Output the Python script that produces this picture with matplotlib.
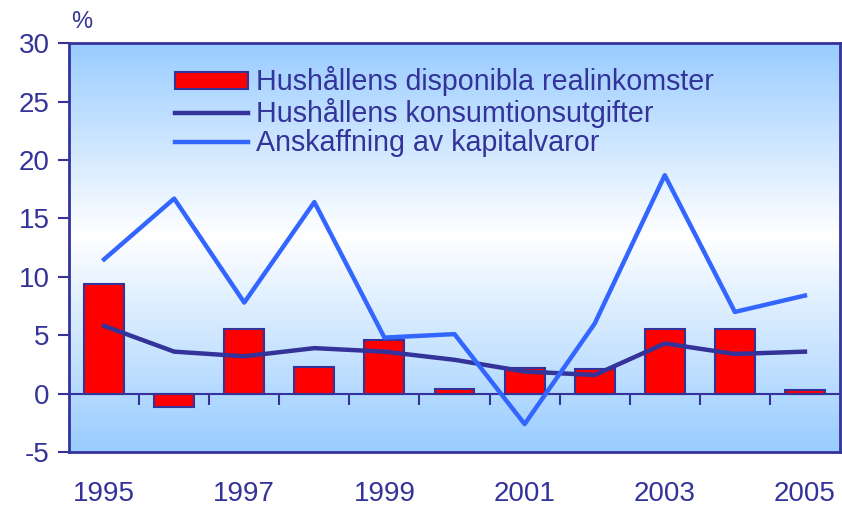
import numpy as np
import matplotlib
matplotlib.use("Agg")
import matplotlib.pyplot as plt
from matplotlib.colors import LinearSegmentedColormap

years = [1995, 1996, 1997, 1998, 1999, 2000, 2001, 2002, 2003, 2004, 2005]
realinkomster = [9.4, -1.1, 5.5, 2.3, 4.6, 0.4, 2.2, 2.1, 5.5, 5.5, 0.3]
konsumtion = [5.8, 3.6, 3.2, 3.9, 3.6, 2.9, 1.9, 1.6, 4.3, 3.4, 3.6]
kapitalvaror = [11.5, 16.7, 7.8, 16.4, 4.8, 5.1, -2.6, 6.0, 18.7, 7.0, 8.4]
labels = [
    "Hushållens disponibla realinkomster",
    "Hushållens konsumtionsutgifter",
    "Anskaffning av kapitalvaror",
]

navy = "#333399"
red = "#ff0000"
blue = "#3366ff"

plt.rcParams["font.family"] = ["Liberation Sans", "DejaVu Sans"]
plt.rcParams["axes.unicode_minus"] = False

fig = plt.figure(figsize=(8.42, 5.08), dpi=100)
ax = fig.add_axes([0.082, 0.110, 0.9156, 0.805])

x = np.arange(len(years))
ax.set_xlim(-0.5, len(years) - 0.5)
ax.set_ylim(-5, 30)

# gradient background: blue at top, white around 11, blue at bottom
cmap = LinearSegmentedColormap.from_list(
    "bg", [(0.0, "#99ccff"), (0.47, "#ffffff"), (1.0, "#99ccff")]
)
grad = np.linspace(0, 1, 256).reshape(-1, 1)
ax.imshow(grad, extent=[-0.5, len(years) - 0.5, -5, 30], aspect="auto",
          cmap=cmap, origin="upper", zorder=0)

bars = ax.bar(x, realinkomster, width=0.57, color=red, edgecolor=navy,
              linewidth=1.5, zorder=2)
l1, = ax.plot(x, konsumtion, color=navy, lw=3.2, zorder=3)
l2, = ax.plot(x, kapitalvaror, color=blue, lw=3.2, zorder=4)

for s in ax.spines.values():
    s.set_color(navy)
    s.set_linewidth(2)
ax.spines["bottom"].set_position(("data", 0))
ax.spines["bottom"].set_linewidth(1.5)
ax.spines["bottom"].set_zorder(1.5)

ax.set_yticks(range(-5, 31, 5))
ax.tick_params(axis="y", colors=navy, labelsize=20, length=8, width=1.5,
               pad=6)
ax.set_xticks(x[:-1] + 0.5)
ax.tick_params(axis="x", length=8, width=1.5, colors=navy, labelbottom=False,
               direction="out")

sec = ax.secondary_xaxis(0)
sec.set_xticks(x[::2])
sec.set_xticklabels([str(y) for y in years[::2]])
sec.tick_params(length=0, pad=21, labelsize=20, colors=navy)
sec.spines["bottom"].set_color(navy)
sec.spines["bottom"].set_linewidth(2)

ax.text(0.003, 1.025, "%", transform=ax.transAxes, fontsize=17, color=navy,
        ha="left", va="bottom")

leg = ax.legend([bars, l1, l2], labels, loc="upper left",
                bbox_to_anchor=(0.137, 0.943), frameon=False,
                fontsize=20.6, handlelength=2.55, handleheight=0.55,
                handletextpad=0.3, labelspacing=0.05, borderpad=0,
                borderaxespad=0)
for t in leg.get_texts():
    t.set_color(navy)

fig.savefig("out.png", dpi=100)
